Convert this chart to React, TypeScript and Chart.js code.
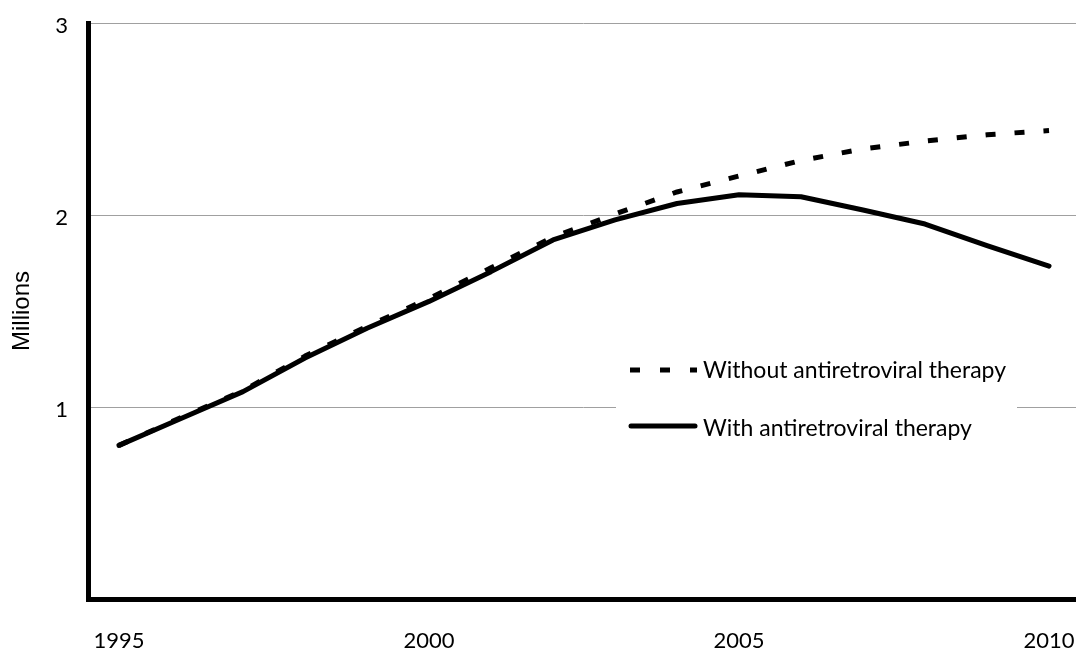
import React, { useEffect, useRef } from 'react';
import { Chart, registerables } from 'chart.js';

Chart.register(...registerables);

const years = [1995, 1996, 1997, 1998, 1999, 2000, 2001, 2002, 2003, 2004, 2005, 2006, 2007, 2008, 2009, 2010];
const withoutArt = [0.8, 0.945, 1.085, 1.265, 1.42, 1.565, 1.725, 1.885, 2.005, 2.12, 2.203, 2.284, 2.344, 2.385, 2.418, 2.44];
const withArt = [0.8, 0.94, 1.08, 1.255, 1.41, 1.55, 1.705, 1.87, 1.975, 2.06, 2.105, 2.095, 2.026, 1.953, 1.84, 1.734];
const xTickValues = [1995, 2000, 2005, 2010];
const yTickValues = [0, 1, 2, 3];
const seriesLabels = ['Without antiretroviral therapy', 'With antiretroviral therapy'];
const yTitle = 'Millions';

const TICK_FONT = 'Lato';

const insideLegend = {
  id: 'insideLegend',
  afterDraw(chart: any) {
    const ctx = chart.ctx as CanvasRenderingContext2D;
    ctx.save();
    ctx.fillStyle = '#ffffff';
    ctx.fillRect(616, 345, 401, 110);
    ctx.strokeStyle = '#000000';
    ctx.lineWidth = 5;
    // dashed symbol
    ctx.setLineDash([10, 20]);
    ctx.lineCap = 'butt';
    ctx.beginPath();
    ctx.moveTo(630, 370);
    ctx.lineTo(697, 370);
    ctx.stroke();
    // solid symbol
    ctx.setLineDash([]);
    ctx.lineCap = 'round';
    ctx.beginPath();
    ctx.moveTo(631, 426);
    ctx.lineTo(695, 426);
    ctx.stroke();
    ctx.fillStyle = '#000000';
    ctx.font = `23px ${TICK_FONT}`;
    ctx.textBaseline = 'alphabetic';
    ctx.textAlign = 'left';
    ctx.fillText(seriesLabels[0], 703, 378);
    ctx.fillText(seriesLabels[1], 703, 436);
    ctx.restore();
  },
};

export default function App() {
  const canvasRef = useRef<HTMLCanvasElement | null>(null);

  useEffect(() => {
    if (!canvasRef.current) return;
    const chart = new Chart(canvasRef.current, {
      type: 'line',
      data: {
        datasets: [
          {
            label: seriesLabels[0],
            data: years.map((y, i) => ({ x: y, y: withoutArt[i] })),
            borderColor: '#000000',
            borderWidth: 5,
            borderDash: [10, 19],
            borderCapStyle: 'butt',
            borderJoinStyle: 'round',
            pointRadius: 0,
            tension: 0,
            fill: false,
          },
          {
            label: seriesLabels[1],
            data: years.map((y, i) => ({ x: y, y: withArt[i] })),
            borderColor: '#000000',
            borderWidth: 5,
            borderCapStyle: 'round',
            borderJoinStyle: 'round',
            pointRadius: 0,
            tension: 0,
            fill: false,
          },
        ],
      },
      options: {
        animation: false,
        responsive: false,
        layout: { padding: { left: 0, right: 0, top: 23, bottom: 0 } },
        plugins: {
          legend: { display: false },
          tooltip: { enabled: false },
        },
        scales: {
          x: {
            type: 'linear',
            min: 1994.5,
            max: 2010.435,
            grid: { display: false, drawTicks: false },
            border: { display: true, color: '#000000', width: 5 },
            afterBuildTicks: (scale: any) => {
              scale.ticks = xTickValues.map((v) => ({ value: v }));
            },
            afterFit: (scale: any) => {
              scale.height = 53;
              scale.paddingLeft = 0;
              scale.paddingRight = 0;
            },
            ticks: {
              color: '#000000',
              font: { family: TICK_FONT, size: 22 },
              padding: 29,
              maxRotation: 0,
              autoSkip: false,
              callback: (v: any) => String(v),
            },
          },
          y: {
            type: 'linear',
            min: 0,
            max: 3,
            grid: {
              drawTicks: false,
              color: (c: any) => (c.tick && c.tick.value === 0 ? 'rgba(0,0,0,0)' : '#a0a0a0'),
              lineWidth: 1,
            },
            border: { display: true, color: '#000000', width: 5 },
            afterBuildTicks: (scale: any) => {
              scale.ticks = yTickValues.map((v) => ({ value: v }));
            },
            afterFit: (scale: any) => {
              scale.width = 88;
              scale.paddingTop = 0;
              scale.paddingBottom = 0;
            },
            title: {
              display: true,
              text: yTitle,
              color: '#000000',
              font: { family: 'Liberation Sans', size: 24 },
              padding: { top: 8, bottom: 0 },
            },
            ticks: {
              color: '#000000',
              font: { family: TICK_FONT, size: 22 },
              padding: 20,
              labelOffset: 3,
              callback: (v: any) => (v === 0 ? '' : String(v)),
            },
          },
        },
      },
      plugins: [insideLegend],
    });
    return () => chart.destroy();
  }, []);

  return (
    <div style={{ position: 'fixed', left: 0, top: 0, width: 1076, height: 652, background: '#ffffff' }}>
      <canvas ref={canvasRef} width={1076} height={652} style={{ display: 'block' }} />
    </div>
  );
}
